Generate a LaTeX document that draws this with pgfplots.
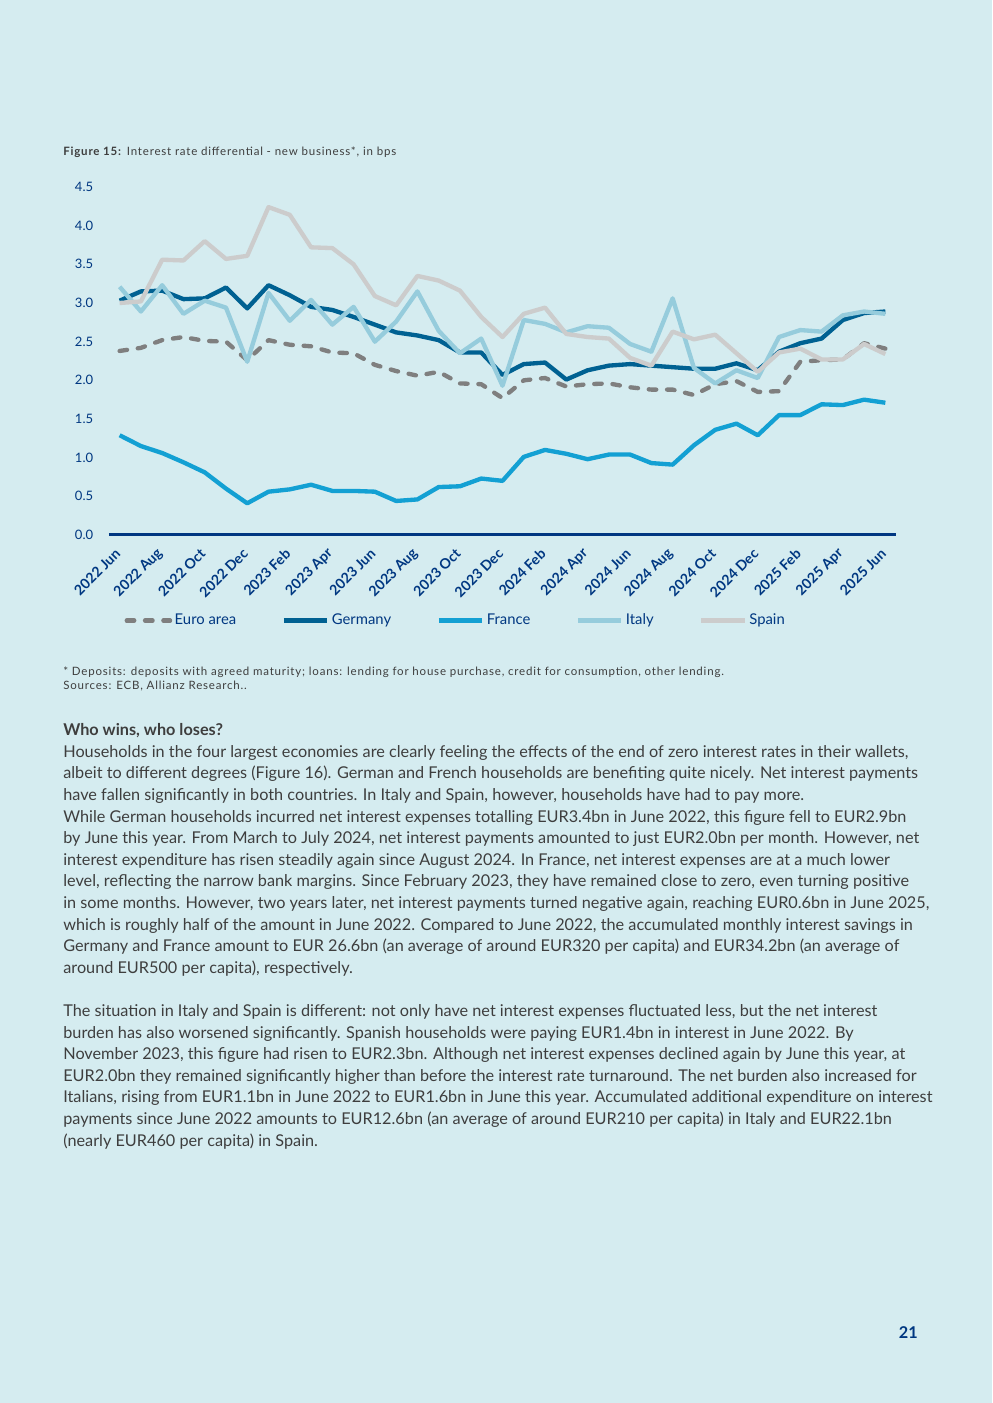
\documentclass[border=0pt]{standalone}
\usepackage{fontspec}
\setmainfont{Lato}
\usepackage{pgfplots}
\usepackage{pgfplotstable}
\pgfplotsset{compat=1.18}

\definecolor{bg}{HTML}{D5ECF0}
\definecolor{navy}{HTML}{003781}
\definecolor{txt}{HTML}{3E3E3E}
\definecolor{cEA}{HTML}{7F7F7F}
\definecolor{cDE}{HTML}{006192}
\definecolor{cFR}{HTML}{13A0D3}
\definecolor{cIT}{HTML}{96CCDC}
\definecolor{cES}{HTML}{CCCCCC}

% monthly data, 0 = 2022 Jun ... 36 = 2025 Jun
\pgfplotstableread{
x  ea   de   fr   it   es
0  2.38 3.03 1.29 3.21 3.00
1  2.42 3.15 1.15 2.89 3.02
2  2.52 3.16 1.06 3.23 3.56
3  2.56 3.05 0.94 2.86 3.55
4  2.51 3.06 0.81 3.03 3.80
5  2.50 3.20 0.60 2.94 3.57
6  2.26 2.93 0.41 2.24 3.61
7  2.52 3.23 0.56 3.13 4.24
8  2.46 3.10 0.59 2.77 4.14
9  2.44 2.95 0.65 3.04 3.72
10 2.36 2.91 0.57 2.72 3.71
11 2.35 2.82 0.57 2.95 3.50
12 2.20 2.72 0.56 2.50 3.09
13 2.12 2.62 0.44 2.76 2.97
14 2.06 2.58 0.46 3.15 3.35
15 2.11 2.52 0.62 2.64 3.29
16 1.96 2.36 0.63 2.35 3.16
17 1.95 2.36 0.73 2.54 2.82
18 1.77 2.07 0.70 1.93 2.56
19 2.00 2.21 1.01 2.78 2.86
20 2.03 2.23 1.10 2.73 2.94
21 1.92 2.01 1.05 2.62 2.60
22 1.95 2.13 0.98 2.70 2.56
23 1.96 2.19 1.04 2.68 2.54
24 1.91 2.21 1.04 2.47 2.29
25 1.88 2.19 0.93 2.37 2.19
26 1.88 2.17 0.91 3.06 2.63
27 1.81 2.15 1.16 2.16 2.53
28 1.95 2.15 1.36 1.96 2.59
29 1.99 2.22 1.44 2.13 2.35
30 1.85 2.13 1.29 2.03 2.11
31 1.86 2.37 1.55 2.56 2.36
32 2.24 2.48 1.55 2.65 2.41
33 2.26 2.54 1.69 2.63 2.27
34 2.27 2.78 1.68 2.84 2.27
35 2.48 2.87 1.75 2.89 2.47
36 2.41 2.89 1.71 2.86 2.34
}\rates

\newcommand{\bodyfont}{\fontsize{9.75}{13}\selectfont}
\newcommand{\notefont}{\fontsize{6.9}{8}\selectfont\addfontfeatures{LetterSpace=7}}

\begin{document}
\begin{tikzpicture}
\begin{scope}[x=0.6pt,y=-0.6pt,every node/.style={anchor=base west,inner sep=0pt,text=txt}]
\fill[bg] (0,0) rectangle (992,1403);
\node[font=\notefont] at (63,155.5) {\textbf{Figure 15:} Interest rate differential - new business*, in bps};
\node[font=\notefont] at (63,675) {* Deposits: deposits with agreed maturity; loans: lending for house purchase, credit for consumption, other lending.};
\node[font=\notefont] at (63,689.5) {Sources: ECB, Allianz Research..};
\node[font=\bodyfont\bfseries] at (63,735) {Who wins, who loses?};
\foreach \t [count=\i from 0] in {
 {Households in the four largest economies are clearly feeling the effects of the end of zero interest rates in their wallets,},
 {albeit to different degrees (Figure 16). German and French households are benefiting quite nicely. Net interest payments},
 {have fallen significantly in both countries. In Italy and Spain, however, households have had to pay more.},
 {While German households incurred net interest expenses totalling EUR3.4bn in June 2022, this figure fell to EUR2.9bn},
 {by June this year. From March to July 2024, net interest payments amounted to just EUR2.0bn per month. However, net},
 {interest expenditure has risen steadily again since August 2024. In France, net interest expenses are at a much lower},
 {level, reflecting the narrow bank margins. Since February 2023, they have remained close to zero, even turning positive},
 {in some months. However, two years later, net interest payments turned negative again, reaching EUR0.6bn in June 2025,},
 {which is roughly half of the amount in June 2022. Compared to June 2022, the accumulated monthly interest savings in},
 {Germany and France amount to EUR 26.6bn (an average of around EUR320 per capita) and EUR34.2bn (an average of},
 {around EUR500 per capita), respectively.}}
  \node[font=\bodyfont] at (63,757.3+21.6*\i) {\t};
\foreach \t [count=\i from 0] in {
 {The situation in Italy and Spain is different: not only have net interest expenses fluctuated less, but the net interest},
 {burden has also worsened significantly. Spanish households were paying EUR1.4bn in interest in June 2022. By},
 {November 2023, this figure had risen to EUR2.3bn. Although net interest expenses declined again by June this year, at},
 {EUR2.0bn they remained significantly higher than before the interest rate turnaround. The net burden also increased for},
 {Italians, rising from EUR1.1bn in June 2022 to EUR1.6bn in June this year. Accumulated additional expenditure on interest},
 {payments since June 2022 amounts to EUR12.6bn (an average of around EUR210 per capita) in Italy and EUR22.1bn},
 {(nearly EUR460 per capita) in Spain.}}
  \node[font=\bodyfont] at (63,1016.5+21.6*\i) {\t};
\node[font=\bodyfont\bfseries,anchor=base east,text=navy] at (918,1338) {21};
\end{scope}

\begin{axis}[
  at={(65.4pt,-321pt)}, anchor=south west,
  scale only axis, width=472.2pt, height=208.8pt,
  xmin=-0.5, xmax=36.5, ymin=0, ymax=4.5,
  axis x line=bottom, axis y line=left,
  x axis line style={-, draw=navy, line width=1.8pt},
  y axis line style={draw=none},
  major tick length=0pt,
  ytick={0,0.5,...,4.5},
  /pgf/number format/assume math mode=true,
  yticklabel style={/pgf/number format/.cd, fixed, fixed zerofill, precision=1, /tikz/.cd,
    font=\fontsize{7.8}{9}\selectfont, text=navy, xshift=-6pt},
  xtick={0,2,...,36},
  xticklabels={2022 Jun,2022 Aug,2022 Oct,2022 Dec,2023 Feb,2023 Apr,2023 Jun,2023 Aug,2023 Oct,2023 Dec,
    2024 Feb,2024 Apr,2024 Jun,2024 Aug,2024 Oct,2024 Dec,2025 Feb,2025 Apr,2025 Jun},
  xticklabel style={xshift=1.3pt, yshift=-7.3pt, rotate=45, anchor=east,
    font=\bfseries\fontsize{8.5}{9}\selectfont, text=navy},
  legend columns=5,
  legend image code/.code={\draw[#1] (0pt,0pt) -- (26pt,0pt);},
  legend style={at={(0.013,-0.246)}, anchor=west, draw=none, fill=none,
    font=\fontsize{8.9}{10}\selectfont, text=navy,
    nodes={inner xsep=1.5pt},
    /tikz/every even column/.append style={column sep=25.8pt}},
  every axis plot/.append style={line width=2.6pt, line join=round},
]
\addplot[cEA, dash pattern=on 4.5pt off 6.5pt, line cap=round] table[x=x, y=ea] {\rates};
\addplot[cDE] table[x=x, y=de] {\rates};
\addplot[cFR] table[x=x, y=fr] {\rates};
\addplot[cIT] table[x=x, y=it] {\rates};
\addplot[cES] table[x=x, y=es] {\rates};
\legend{Euro area, Germany, France, Italy, Spain}
\end{axis}
\end{tikzpicture}
\end{document}
